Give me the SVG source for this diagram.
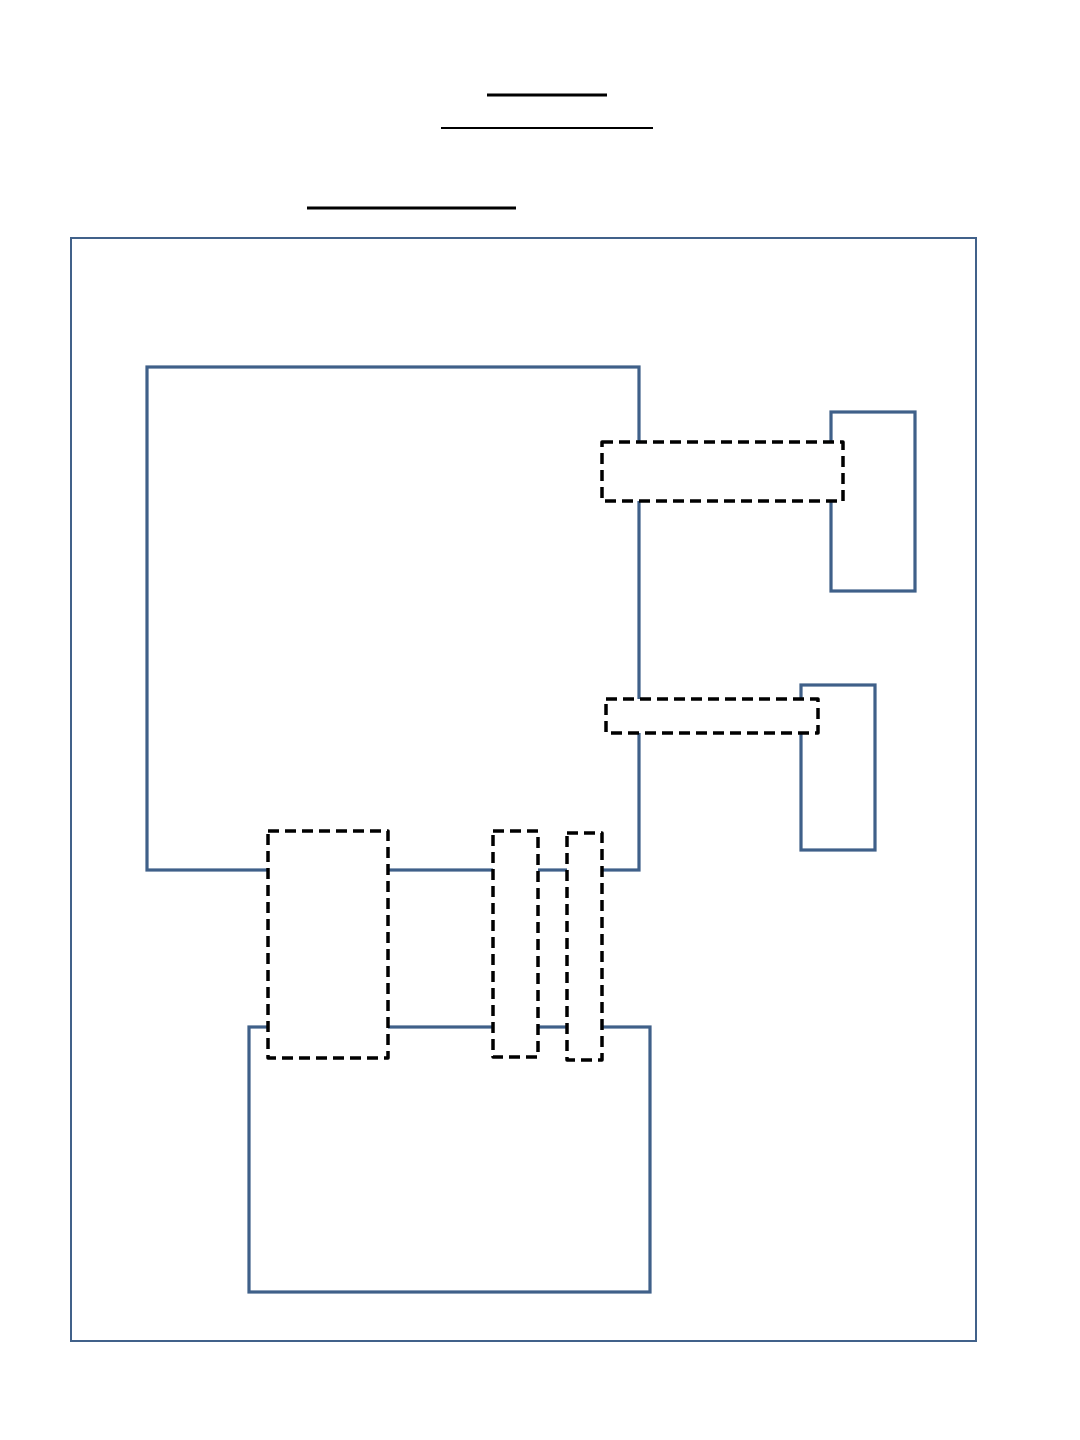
<svg xmlns="http://www.w3.org/2000/svg" width="1080" height="1440" viewBox="0 0 1080 1440">
<style>
.bl{fill:none;stroke:#3f6089;stroke-width:3.2;stroke-linejoin:miter}
.fr{fill:none;stroke:#41618a;stroke-width:2}
.ds{fill:#ffffff;stroke:#000000;stroke-width:3.5;stroke-dasharray:11 6;stroke-linejoin:round}
.ul{stroke:#000000}
</style>
<rect width="1080" height="1440" fill="#ffffff"/>
<g id="title-lines">
<line class="ul" x1="487" y1="95" x2="607" y2="95" stroke-width="3"/>
<line class="ul" x1="441" y1="128" x2="653" y2="128" stroke-width="2"/>
<line class="ul" x1="307" y1="208" x2="516" y2="208" stroke-width="3"/>
</g>
<g id="frame"><rect class="fr" x="71" y="238" width="905" height="1103"/></g>
<g id="main"><rect class="bl" x="147" y="367" width="492" height="503"/></g>
<g id="right1"><rect class="bl" x="831" y="412" width="84" height="179"/></g>
<g id="right2"><rect class="bl" x="801" y="685" width="74" height="165"/></g>
<g id="bottom"><rect class="bl" x="249" y="1027" width="401" height="265"/></g>
<g id="connectors">
<g id="d1"><rect class="ds" x="602" y="442" width="241" height="59"/></g>
<g id="d2"><rect class="ds" x="606" y="699" width="212" height="34"/></g>
<g id="d3"><rect class="ds" x="268" y="831" width="120" height="227"/></g>
<g id="d4"><rect class="ds" x="493" y="831" width="45" height="226"/></g>
<g id="d5"><rect class="ds" x="567" y="833" width="35" height="227"/></g>
</g>
</svg>
